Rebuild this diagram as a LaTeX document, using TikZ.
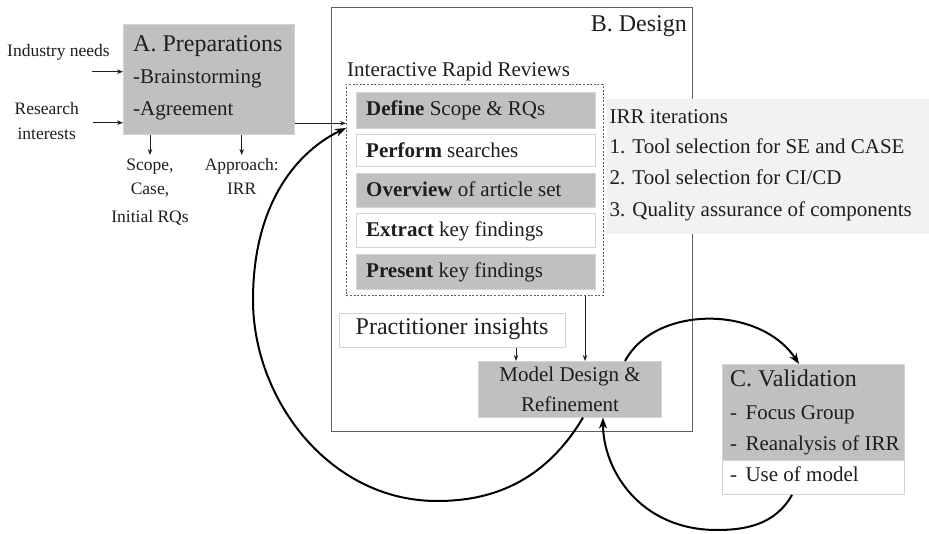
\documentclass[tikz,border=0pt]{standalone}
\usepackage{fontspec}
\setmainfont{Liberation Serif}
\usetikzlibrary{arrows.meta}
\definecolor{boxgray}{RGB}{192,192,192}
\definecolor{boxedge}{RGB}{212,212,212}
\definecolor{framegray}{RGB}{95,95,95}
\definecolor{irrfill}{RGB}{242,242,242}
\definecolor{inkcol}{RGB}{30,30,30}
\tikzset{
  small/.style={inner sep=0pt, text=inkcol, font=\fontsize{17.5}{21}\selectfont},
  txt/.style={inner sep=0pt, text=inkcol, font=\fontsize{21}{25}\selectfont},
  big/.style={inner sep=0pt, text=inkcol, font=\fontsize{24}{28}\selectfont},
  graybox/.style={fill=boxgray, draw=boxedge, line width=0.6pt, inner sep=0pt, anchor=north west},
  whitebox/.style={fill=white, draw=boxedge, line width=0.9pt, inner sep=0pt, anchor=north west},
  thinarrow/.style={-{Stealth[length=6pt,width=4.5pt]}, line width=0.8pt, draw=inkcol},
  looparrow/.style={-{Stealth[length=11pt,width=8pt]}, line width=2pt, draw=black},
}
\begin{document}
\begin{tikzpicture}[x=1pt,y=-1pt]
\useasboundingbox (0,0) rectangle (929,534);

% ---------- A. Preparations ----------
\node[graybox, minimum width=171pt, minimum height=110pt] (boxA) at (123,24) {};
\node[big, anchor=base west] (aTitle) at (133,51.7) {A. Preparations};
\node[txt, anchor=base west] (aBrain) at (133,84) {-Brainstorming};
\node[txt, anchor=base west] (aAgree) at (133,116) {-Agreement};

\node[small, anchor=base] (industry) at (58.5,56.5) {Industry needs};
\node[small, anchor=base] (research) at (46.7,115) {Research};
\node[small, anchor=base] (interests) at (46.7,140) {interests};
\coordinate (inA1) at (92,71.7);
\coordinate (inA2) at (92.7,122.7);
\draw[thinarrow] (inA1) -- (boxA.west |- inA1);
\draw[thinarrow] (inA2) -- (boxA.west |- inA2);

\node[small, anchor=base] (scope) at (150,170.7) {Scope,};
\node[small, anchor=base] (case) at (150,195) {Case,};
\node[small, anchor=base] (initial) at (150,222.7) {Initial RQs};
\node[small, anchor=base] (approach) at (241.7,170.7) {Approach:};
\node[small, anchor=base] (irr) at (241.7,195) {IRR};
\coordinate (downA1) at (150,155);
\coordinate (downA2) at (241.7,155);
\draw[thinarrow] (boxA.south -| downA1) -- (downA1);
\draw[thinarrow] (boxA.south -| downA2) -- (downA2);

% ---------- B. Design ----------
\node[draw=framegray, line width=0.9pt, inner sep=0pt, anchor=north west,
      minimum width=361.5pt, minimum height=424pt] (frameB) at (330.5,7) {};
\node[big, anchor=base east] (bTitle) at (687,32) {B. Design};
\node[txt, anchor=base west] (irrTitle) at (347,77) {Interactive Rapid Reviews};

\node[draw=framegray, dash pattern=on 2pt off 1.6pt, line width=0.8pt, inner sep=0pt,
      anchor=north west, minimum width=256.5pt, minimum height=211.5pt] (dashbox) at (346,84) {};

\node[graybox, minimum width=239pt, minimum height=36.3pt] (define) at (356,91.7) {};
\node[whitebox, minimum width=239pt, minimum height=32pt] (perform) at (356,134) {};
\node[graybox, minimum width=239pt, minimum height=34.3pt] (overview) at (356,172.7) {};
\node[whitebox, minimum width=239pt, minimum height=34pt] (extract) at (356,212.7) {};
\node[graybox, minimum width=239pt, minimum height=35pt] (present) at (356,254) {};
\node[txt, anchor=base west] (defineT) at (366,116) {\textbf{Define} Scope \& RQs};
\node[txt, anchor=base west] (performT) at (366,157.3) {\textbf{Perform} searches};
\node[txt, anchor=base west] (overviewT) at (366,196.7) {\textbf{Overview} of article set};
\node[txt, anchor=base west] (extractT) at (366,236.7) {\textbf{Extract} key findings};
\node[txt, anchor=base west] (presentT) at (366,277.3) {\textbf{Present} key findings};

\coordinate (aout) at (294,123.3);
\draw[thinarrow] (boxA.east |- aout) -- (dashbox.west |- aout);

% IRR iterations box
\node[fill=irrfill, inner sep=0pt, anchor=north west, minimum width=322pt, minimum height=135pt] (irrbox) at (607,99) {};
\node[txt, anchor=base west] (irrIt) at (609.5,124) {IRR iterations};
\node[txt, anchor=base west] (irr1) at (609.5,154) {1. Tool selection for SE and CASE};
\node[txt, anchor=base west] (irr2) at (609.5,185) {2. Tool selection for CI/CD};
\node[txt, anchor=base west] (irr3) at (609.5,217) {3. Quality assurance of components};

% Practitioner insights and model
\node[whitebox, minimum width=226pt, minimum height=34pt] (pract) at (339,313) {};
\node[big, anchor=base] (practT) at (452,335) {Practitioner insights};
\node[graybox, minimum width=183pt, minimum height=56pt] (model) at (478,361) {};
\node[txt, anchor=base] (modelT1) at (570,381.7) {Model Design \&};
\node[txt, anchor=base] (modelT2) at (570,411.7) {Refinement};

\coordinate (pm) at (516,0);
\coordinate (dm) at (585,0);
\draw[thinarrow] (pract.south -| pm) -- (model.north -| pm);
\draw[thinarrow] (dashbox.south -| dm) -- (model.north -| dm);

% ---------- C. Validation ----------
\node[graybox, minimum width=182pt, minimum height=96pt] (valgray) at (722,364) {};
\node[whitebox, minimum width=182pt, minimum height=34pt] (valwhite) at (722,460) {};
\node[big, anchor=base west] (cTitle) at (730,386.7) {C. Validation};
\node[txt, anchor=base west] (cFocus) at (730,420) {-\hspace{0.4em}Focus Group};
\node[txt, anchor=base west] (cRe) at (730,450) {-\hspace{0.4em}Reanalysis of IRR};
\node[txt, anchor=base west] (cUse) at (730,481.7) {-\hspace{0.4em}Use of model};

% ---------- loops ----------
\coordinate (loopL) at (583,0);
\coordinate (loopLend) at (0,128);
\draw[looparrow] (model.south -| loopL) .. controls (540,490) and (480,501) .. (437,501)
  .. controls (330,501) and (253,400) .. (253,300)
  .. controls (253,200) and (300,150) .. (dashbox.west |- loopLend);

\coordinate (upS) at (625,0);
\coordinate (upE) at (799,0);
\draw[looparrow] (model.north -| upS) .. controls (655,305) and (760,305) .. (valgray.north -| upE);

\coordinate (lowS) at (792,0);
\coordinate (lowE) at (603,0);
\draw[looparrow] (valwhite.south -| lowS) .. controls (775,525) and (745,530) .. (717,530)
  .. controls (640,530) and (603,470) .. (model.south -| lowE);
\end{tikzpicture}
\end{document}
